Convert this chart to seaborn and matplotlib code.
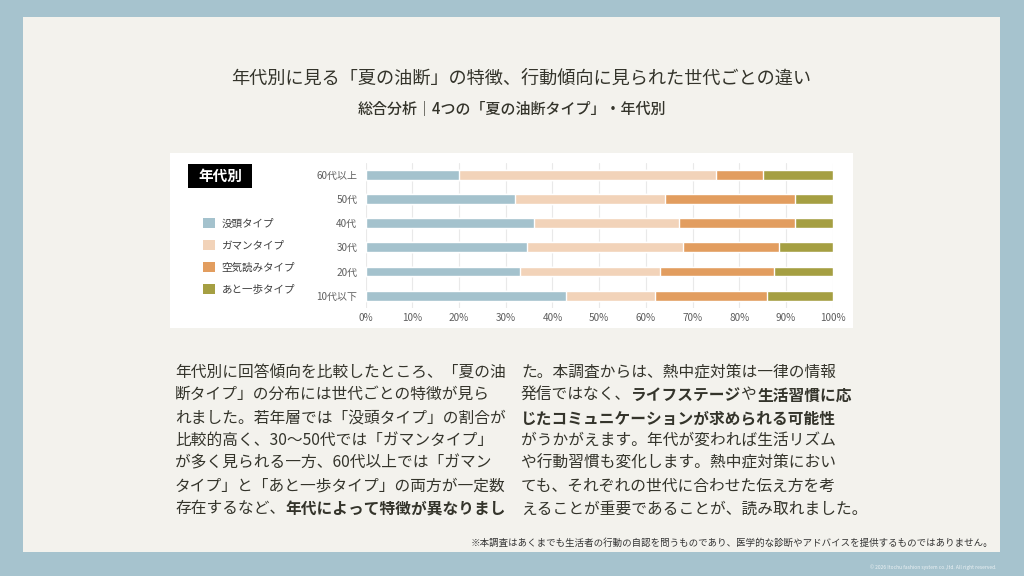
import matplotlib
matplotlib.use("Agg")
import matplotlib.pyplot as plt
import matplotlib.text as mtext
from matplotlib.patches import Patch, Rectangle
import seaborn as sns

# data (percent)
ages = ["60代以上", "50代", "40代", "30代", "20代", "10代以下"]
types = ["没頭タイプ", "ガマンタイプ", "空気読みタイプ", "あと一歩タイプ"]
botto = [20, 32, 36, 34.5, 33, 43]
gaman = [55, 32, 31, 33.5, 30, 19]
kuuki = [10, 28, 25, 20.5, 24.5, 24]
ato = [15, 8, 8, 11.5, 12.5, 14]
colors = ["#a4c2cd", "#f2d3b9", "#e29d5f", "#a59f42"]
xticks = list(range(0, 101, 10))

title = "年代別に見る「夏の油断」の特徴、行動傾向に見られた世代ごとの違い"
subtitle = "総合分析｜4つの「夏の油断タイプ」・年代別"
footnote = "※本調査はあくまでも生活者の行動の自認を問うものであり、医学的な診断やアドバイスを提供するものではありません。"
copyright = "© 2026 Itochu fashion system co.,ltd. All right reserved."

left_lines = [
    [("年代別に回答傾向を比較したところ、「夏の油", False)],
    [("断タイプ」の分布には世代ごとの特徴が見ら", False)],
    [("れました。若年層では「没頭タイプ」の割合が", False)],
    [("比較的高く、30～50代では「ガマンタイプ」", False)],
    [("が多く見られる一方、60代以上では「ガマン", False)],
    [("タイプ」と「あと一歩タイプ」の両方が一定数", False)],
    [("存在するなど、", False), ("年代によって特徴が異なりまし", True)],
]
right_lines = [
    [("た。本調査からは、熱中症対策は一律の情報", False)],
    [("発信ではなく、", False), ("ライフステージ", True), ("や", False), ("生活習慣に応", True)],
    [("じたコミュニケーションが求められる可能性", True)],
    [("がうかがえます。年代が変われば生活リズム", False)],
    [("や行動習慣も変化します。熱中症対策におい", False)],
    [("ても、それぞれの世代に合わせた伝え方を考", False)],
    [("えることが重要であることが、読み取れました。", False)],
]

sns.set_style("white")
plt.rcParams["font.family"] = ["Noto Sans CJK JP", "DejaVu Sans"]
text_c = "#34342b"

W, H = 1024, 576
fig = plt.figure(figsize=(10.24, 5.76), dpi=100, facecolor="#a6c3ce")


def fx(px):
    return px / W


def fy(py):
    return 1 - py / H


# cream panel and white chart card (behind the axes)
fig.patches.append(Rectangle((fx(23), fy(552)), fx(977), 535 / H, transform=fig.transFigure,
                             facecolor="#f3f2ed", edgecolor="none", zorder=-2))
fig.patches.append(Rectangle((fx(170), fy(328)), fx(683), 175 / H, transform=fig.transFigure,
                             facecolor="white", edgecolor="none", zorder=-1))

fig.text(0.509, fy(79), title, ha="center", va="center", fontsize=13.1, color=text_c)
fig.text(0.5, fy(110), subtitle, ha="center", va="center", fontsize=10.8,
         color=text_c, fontweight="medium")

# stacked bars: draw cumulative totals back to front
ax = fig.add_axes([0.3571, 0.4656, 0.456, 0.2521])
ax.set_zorder(1)
ax.set_facecolor("none")
series = [botto, gaman, kuuki, ato]
cum = []
run = [0] * len(ages)
for s in series:
    run = [a + b for a, b in zip(run, s)]
    cum.append(run)
for vals, c in reversed(list(zip(cum, colors))):
    sns.barplot(x=vals, y=ages, order=ages, orient="h", color=c, saturation=1,
                width=0.4, errorbar=None, ax=ax)

ax.set_xlim(0, 100)
ax.set_xticks(xticks)
ax.set_xticklabels([f"{v}%" for v in xticks])
ax.set_xlabel("")
ax.set_ylabel("")
ax.grid(axis="x", color="#e9e9e9", linewidth=0.8)
ax.grid(axis="y", visible=False)
ax.set_axisbelow(True)
sns.despine(ax=ax, left=True, bottom=True)
ax.tick_params(axis="x", length=0, pad=4, labelsize=7.2, labelcolor="#5e5e5e")
ax.tick_params(axis="y", length=0, pad=6, labelsize=7.2, labelcolor="#5e5e5e")

ax.legend(handles=[Patch(facecolor=c, edgecolor="none", label=t) for t, c in zip(types, colors)],
          loc="upper left", bbox_to_anchor=(fx(203), fy(218)), bbox_transform=fig.transFigure,
          frameon=False, fontsize=7.6, handlelength=1.15, handleheight=1.15,
          handletextpad=0.6, labelspacing=1.05, borderpad=0, borderaxespad=0,
          labelcolor="#3c3c3c")

# "年代別" label box
fig.patches.append(Rectangle((fx(188), fy(188)), fx(64), 24 / H, transform=fig.transFigure,
                             facecolor="black", edgecolor="none", zorder=2))
fig.text(fx(220), fy(176), "年代別", ha="center", va="center", fontsize=10.5,
         color="white", fontweight="bold", zorder=3)


def draw_line(x, y, segs, size=11.3):
    prev = None
    for seg, bold in segs:
        w = "bold" if bold else "normal"
        if prev is None:
            prev = fig.text(x, y, seg, ha="left", va="bottom", fontsize=size,
                            color=text_c, fontweight=w)
        else:
            a = mtext.Annotation(seg, xy=(1, 0), xycoords=prev, ha="left", va="bottom",
                                 fontsize=size, color=text_c, fontweight=w)
            fig.add_artist(a)
            prev = a


for i, segs in enumerate(left_lines):
    draw_line(fx(175), fy(380.5 + i * 22.8), segs)
for i, segs in enumerate(right_lines):
    draw_line(fx(521), fy(380.5 + i * 22.8), segs)

fig.text(fx(993), fy(543), footnote, ha="right", va="center", fontsize=6.8, color="#333333")
fig.text(fx(997), fy(567), copyright, ha="right", va="center", fontsize=3.5, color="#eef3f5")

fig.savefig("out.png", dpi=100, facecolor=fig.get_facecolor())
